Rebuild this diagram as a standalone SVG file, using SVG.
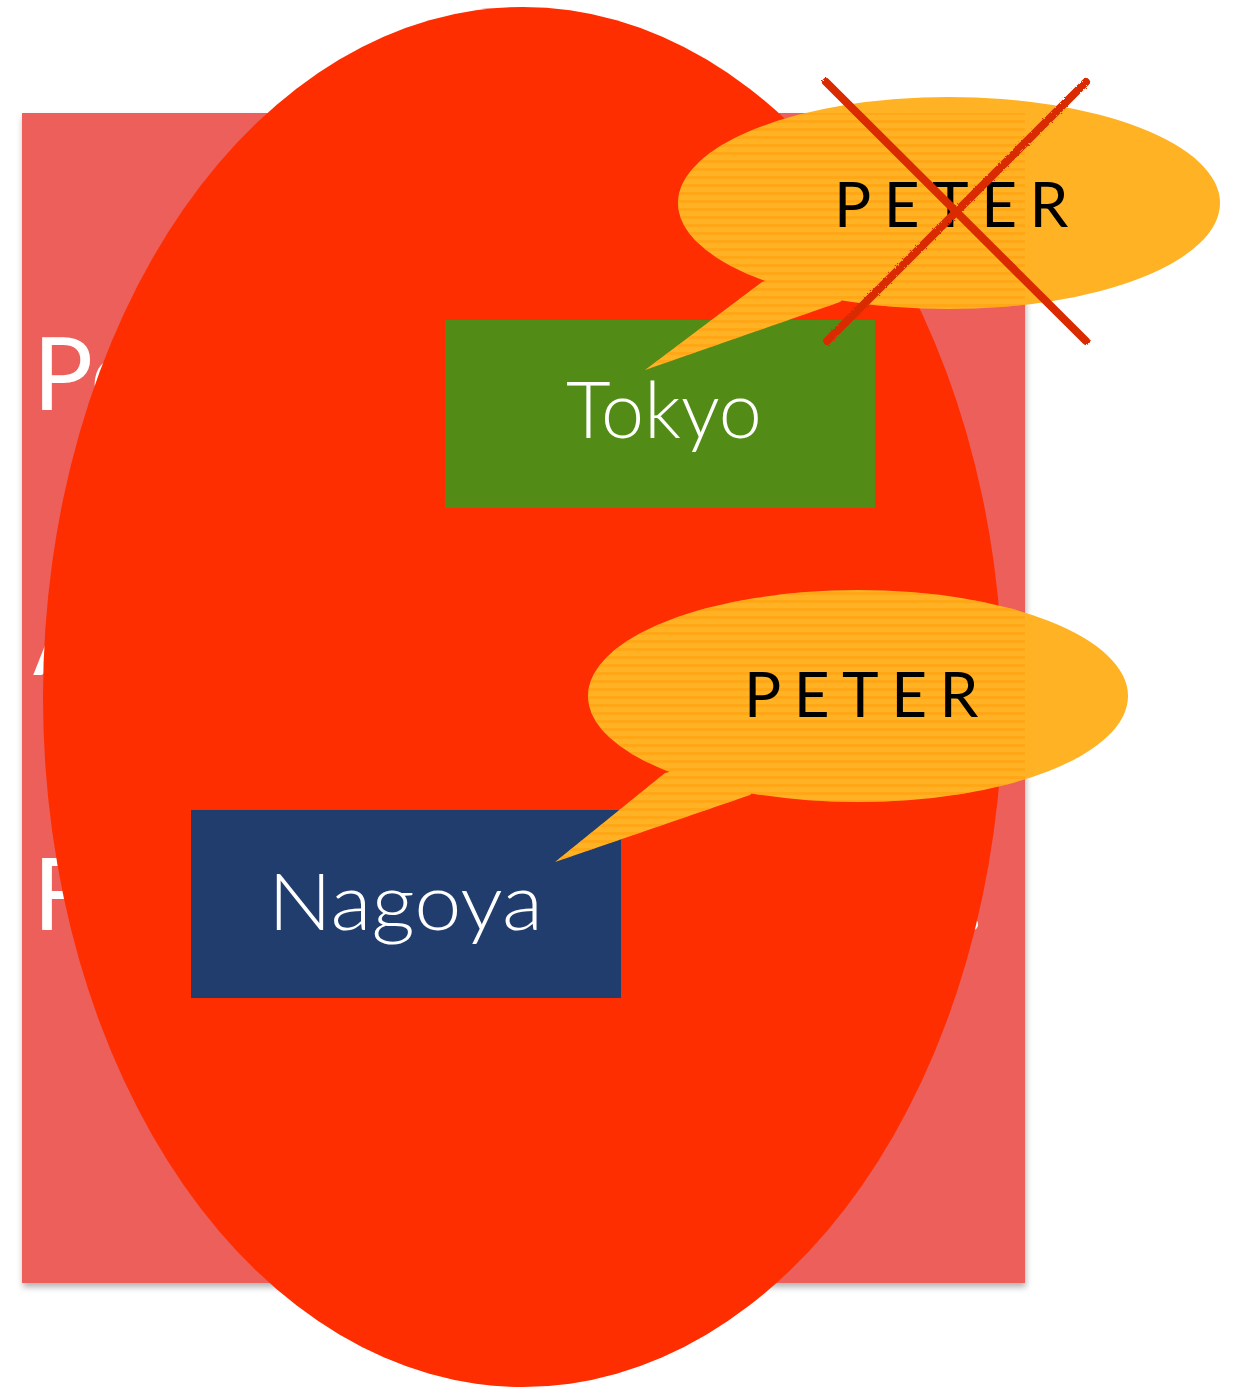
<svg xmlns="http://www.w3.org/2000/svg" width="1238" height="1387" viewBox="0 0 1238 1387">
<defs>
<filter id="sh" x="-5%" y="-5%" width="110%" height="110%">
<feDropShadow dx="1" dy="4" stdDeviation="3" flood-color="#000" flood-opacity="0.3"/>
</filter>
<pattern id="stripes" width="10" height="8" patternUnits="userSpaceOnUse">
<rect width="10" height="3" fill="#FF9F0A" opacity="0.55"/>
</pattern>
<clipPath id="inrect"><rect x="22" y="113" width="1003" height="1170"/></clipPath>
<filter id="rough"><feTurbulence type="fractalNoise" baseFrequency="0.6" numOctaves="2" result="n"/><feDisplacementMap in="SourceGraphic" in2="n" scale="3"/></filter>
</defs>
<style>
.big{font-family:Lato,"Open Sans",sans-serif;font-weight:400;fill:#fff;font-size:100px}
.lbl{font-family:Lato,"Open Sans",sans-serif;font-weight:300;fill:#fff;font-size:78px}
.peter{font-family:Lato,"Open Sans",sans-serif;font-weight:400;fill:#000;font-size:62px;letter-spacing:12.5px}
.bubble{fill:#FEB224}
</style>
<rect id="panel" x="22" y="113" width="1003" height="1170" fill="#EC5F5A" filter="url(#sh)"/>
<g id="panel-text">
<text class="big" x="33" y="410">Po</text>
<text class="big" x="33" y="675">A</text>
<text class="big" x="33" y="930">F</text>
<text class="big" x="960" y="930">.</text>
</g>
<ellipse id="big-oval" cx="523" cy="697" rx="480" ry="690" fill="#FE2E00"/>
<g id="tokyo">
<rect x="445" y="320" width="430" height="188" fill="#538B17"/>
<text class="lbl" x="566" y="438" textLength="196" lengthAdjust="spacingAndGlyphs">Tokyo</text>
</g>
<g id="nagoya">
<rect x="191" y="810" width="430" height="188" fill="#203D6E"/>
<text class="lbl" x="268" y="930" textLength="275" lengthAdjust="spacingAndGlyphs">Nagoya</text>
</g>
<g id="connectors">
<g id="bubble-tokyo">
<path class="bubble" d="M678,203 A271,106 0 1,1 1220,203 A271,106 0 1,1 678,203 Z M762,282 L900,250 L840,302 L645,370 Z"/>
<path clip-path="url(#inrect)" fill="url(#stripes)" d="M678,203 A271,106 0 1,1 1220,203 A271,106 0 1,1 678,203 Z M762,282 L900,250 L840,302 L645,370 Z"/>
<text class="peter" x="834" y="227">PETER</text>
</g>
<g id="bubble-nagoya">
<path class="bubble" d="M588,696 A270,106 0 1,1 1128,696 A270,106 0 1,1 588,696 Z M665,773 L800,740 L750,795 L555,862 Z"/>
<path clip-path="url(#inrect)" fill="url(#stripes)" d="M588,696 A270,106 0 1,1 1128,696 A270,106 0 1,1 588,696 Z M665,773 L800,740 L750,795 L555,862 Z"/>
<text class="peter" x="744" y="717">PETER</text>
</g>
</g>
<g id="cross" stroke="#D92B00" stroke-width="8" stroke-linecap="round" filter="url(#rough)">
<line x1="826" y1="82" x2="1086" y2="341"/>
<line x1="1086" y1="82" x2="827" y2="341"/>
</g>
</svg>
